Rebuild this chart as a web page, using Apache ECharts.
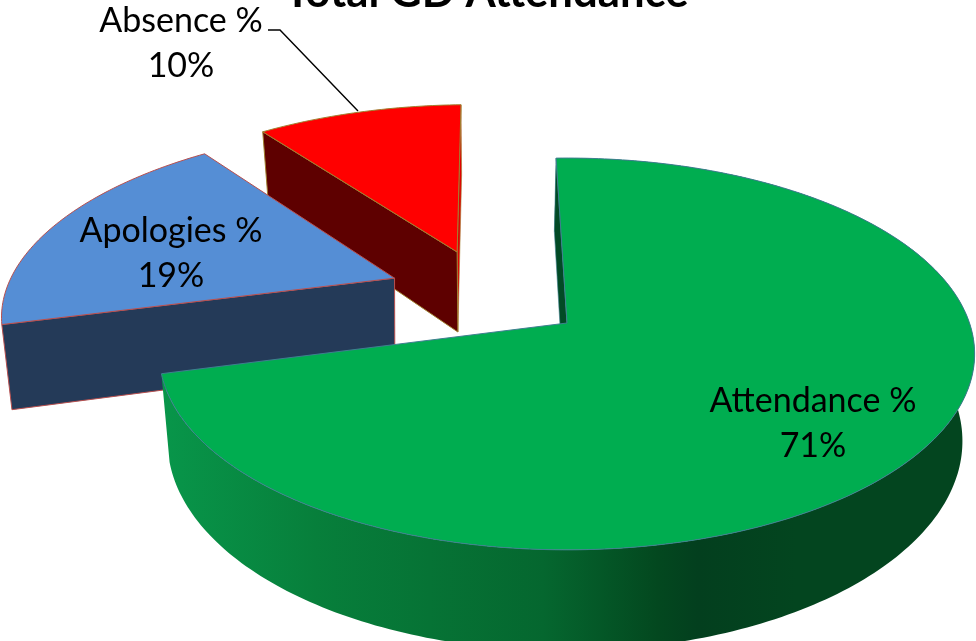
<!DOCTYPE html>
<html><head><meta charset="utf-8">
<style>html,body{margin:0;padding:0;background:#fff}#c{width:976px;height:641px}</style>
<script src="https://cdn.jsdelivr.net/npm/echarts@6/dist/echarts.min.js"></script>
</head><body><div id="c"></div>
<script>
const categories = ['Attendance %', 'Apologies %', 'Absence %'];
const values = [71.4, 18.7, 9.9];
const titleText = 'Total GD Attendance';

// view: ground-plane projection of the tilted pie
const view = {cx: 567, cy: 323, rx: 402.5, ry: 191, k: 0.158, depth: 85, bottomScale: 0.975, startDeg: -1.8};
const explode = [[0, 0], [-0.445, -0.244], [-0.29, -0.395]];
const radius = [1, 0.99, 1];
const lowShift = [-2, -4, -2];
const topColors = ['#00AD50', '#558ED5', '#FF0000'];
const wallColors = ['#03451F', '#243A58', '#5E0000'];
const edgeColors = ['#3F7F90', '#B8504F', '#A08030'];
const labelPos = [[813, 400], [171, 230], [181, 20]];
const FONT = 'Lato';

function project(X, Y, low, shift) {
  const w = 1 - view.k * Y;
  const s = low ? view.bottomScale : 1;
  return [view.cx + s * view.rx * X / w + (low ? shift : 0), view.cy + (view.ry * Y + (low ? view.depth : 0)) / w];
}
const total = values.reduce((a, b) => a + b, 0);

function sliceShapes(i) {
  let a0 = view.startDeg;
  for (let j = 0; j < i; j++) a0 += values[j] / total * 360;
  const a1 = a0 + values[i] / total * 360;
  const [ox, oy] = explode[i];
  const rim = low => {
    const pts = [];
    const n = Math.ceil(a1 - a0);
    for (let t = 0; t <= n; t++) {
      const a = (a0 + (a1 - a0) * t / n) * Math.PI / 180;
      pts.push(project(ox + radius[i] * Math.sin(a), oy - radius[i] * Math.cos(a), low, lowShift[i]));
    }
    return pts;
  };
  return {top: rim(false), low: rim(true), apex: project(ox, oy, false, 0), apexLow: project(ox, oy, true, lowShift[i])};
}
const poly = (points, style, z2) => ({type: 'polygon', shape: {points}, style, z2});

function renderItem(params) {
  const i = params.dataIndex;
  const s = sliceShapes(i);
  const base = (3 - i) * 10;
  const children = [];
  const first = s.top[0], last = s.top[s.top.length - 1];
  const firstLow = s.low[0], lastLow = s.low[s.low.length - 1];
  if (i === 0) {
    children.push(poly(s.top.concat(s.low.slice().reverse()), {
      fill: new echarts.graphic.LinearGradient(0, 0, 1, 0, [
        {offset: 0, color: '#08964A'}, {offset: 0.19, color: '#077F3B'},
        {offset: 0.47, color: '#05672F'}, {offset: 0.61, color: '#03481F'},
        {offset: 0.66, color: '#033F1E'}, {offset: 0.78, color: '#03451F'},
        {offset: 1, color: '#03451F'}
      ])
    }, base));
    children.push(poly([first, s.apex, s.apexLow, firstLow], {fill: '#024A25', stroke: '#3F7F90', lineWidth: 0.6}, base + 1));
  } else {
    if (i === 2) children.push(poly([last, s.apex, s.apexLow, lastLow], {fill: '#E00000', stroke: edgeColors[i], lineWidth: 0.6}, base));
    children.push(poly([first, s.apex, s.apexLow, firstLow], {fill: wallColors[i], stroke: edgeColors[i], lineWidth: 1}, base + 1));
  }
  children.push(poly(s.top.concat([s.apex]), {fill: topColors[i], stroke: edgeColors[i], lineWidth: 1, lineJoin: 'round'}, base + 2));
  const pct = Math.round(values[i] / total * 100) + '%';
  children.push({type: 'text', z2: 100, style: {
    text: categories[i] + '\n' + pct, x: labelPos[i][0], y: labelPos[i][1] - 22,
    align: 'center', verticalAlign: 'top', fill: '#000', font: '34px ' + FONT, lineHeight: 45.5
  }});
  if (i === 2) {
    children.push({type: 'polyline', z2: 99, shape: {points: [[268, 30], [280, 30], [358, 111]]},
      style: {stroke: '#000', lineWidth: 1.4, fill: 'none'}});
  }
  return {type: 'group', children};
}

const chart = echarts.init(document.getElementById('c'), null, {renderer: 'canvas'});
chart.setOption({
  animation: false,
  backgroundColor: '#fff',
  title: {text: titleText, left: 481.5, top: -34, textAlign: 'center',
    textStyle: {fontFamily: FONT, fontWeight: 'bold', fontSize: 43.7, color: '#000'}},
  series: [{type: 'custom', coordinateSystem: 'none', renderItem, clip: false,
    data: values.map((v, i) => ({name: categories[i], value: v}))}]
});
</script></body></html>
